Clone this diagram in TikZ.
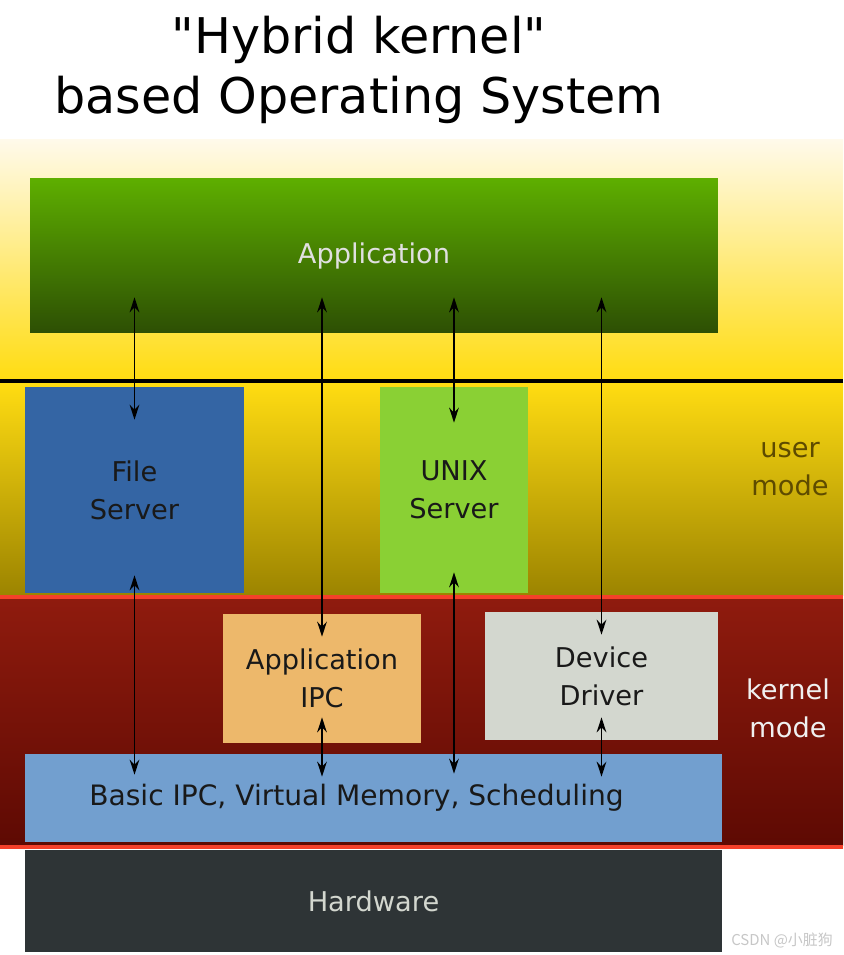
\documentclass[tikz,border=0pt]{standalone}
\usepackage{fontspec}
\setmainfont{DejaVu Sans}
\newfontfamily\cjkfont{Noto Sans CJK SC}
\usepackage{xcolor}
\usepackage{tikz}
\usetikzlibrary{arrows.meta,positioning}

\definecolor{appTop}{HTML}{5EAF00}
\definecolor{appBot}{HTML}{2D4F04}
\definecolor{fsBlue}{HTML}{3465A4}
\definecolor{unixGreen}{HTML}{8AD034}
\definecolor{ipcTan}{HTML}{EDB86B}
\definecolor{ddGrey}{HTML}{D3D7CF}
\definecolor{basicBlue}{HTML}{729FCF}
\definecolor{hwDark}{HTML}{2E3436}
\definecolor{userPale}{HTML}{FFFAEA}
\definecolor{userYellow}{HTML}{FFDC12}
\definecolor{userOlive}{HTML}{9C8400}
\definecolor{kernTop}{HTML}{8F1B0E}
\definecolor{kernBot}{HTML}{5E0A03}
\definecolor{redLine}{HTML}{F5402A}
\definecolor{userText}{HTML}{5E4B00}

\begin{document}
\begin{tikzpicture}[x=0.02cm, y=-0.02cm, >={Stealth[length=8.5pt,width=5.5pt]}, inner sep=0pt,
  box/.style={rectangle, align=center, font=\fontsize{15.5}{21.5}\selectfont, text=black!90},
  link/.style={<->, line width=1.1pt, black},
  modelabel/.style={align=center, font=\fontsize{15.5}{21.5}\selectfont}]

\useasboundingbox (0,0) rectangle (843,955);
\fill[white] (0,0) rectangle (843,955);

% mode bands
\shade[top color=userPale, bottom color=userYellow] (0,140) rectangle (843,379);
\shade[top color=userYellow, bottom color=userOlive] (0,383) rectangle (843,595);
\shade[top color=kernTop, bottom color=kernBot] (0,599) rectangle (843,845);
\draw[line width=2.8pt, black] (0,381) -- (843,381);
\draw[line width=2.8pt, redLine] (0,597) -- (843,597);
\draw[line width=2.8pt, redLine] (0,847) -- (843,847);

\node (title) [align=center, font=\fontsize{28}{34.5}\selectfont] at (359,70)
  {\textquotedbl Hybrid kernel\textquotedbl\\based Operating System};

\node [box, minimum width=13.76cm, minimum height=3.1cm, top color=appTop, bottom color=appBot,
  text=white!88!black] (app) at (374,255.5) {Application};
\node [box, fill=fsBlue, minimum width=4.38cm, minimum height=4.12cm] (fs) at (134.5,490) {File\\Server};
\node [box, fill=unixGreen, minimum width=2.96cm, minimum height=4.12cm] (unix) at (454,490) {UNIX\\Server};
\node [box, fill=ipcTan, minimum width=3.96cm, minimum height=2.58cm] (aipc) at (322,678.5) {Application\\IPC};
\node [box, fill=ddGrey, minimum width=4.66cm, minimum height=2.56cm] (dd) at (601.5,676) {Device\\Driver};
\node [box, fill=basicBlue, minimum width=13.94cm, minimum height=1.76cm, font=\fontsize{16}{21.5}\selectfont] (basic) at (373.5,798)
  {Basic IPC, Virtual Memory, Scheduling\hspace*{0.68cm}};
\node [box, fill=hwDark, minimum width=13.94cm, minimum height=2.04cm, text=ddGrey] (hw) at (373.5,901) {Hardware};

\node [modelabel, text=userText] (user) at (790,469) {user\\mode};
\node [modelabel, text=white!94!black] (kern) at (788,708) {kernel\\mode};
\node [font=\cjkfont\fontsize{8.5}{10}\selectfont, text=black!22] (mark) at (782,940) {CSDN @小脏狗};

\draw[link] ([yshift=0.72cm]app.south -| fs.north) -- ([yshift=-0.66cm]fs.north);
\draw[link] ([yshift=0.36cm]fs.south) -- ([yshift=-0.42cm]basic.north -| fs.south);
\draw[link] ([yshift=0.72cm]app.south -| aipc.north) -- ([yshift=-0.46cm]aipc.north);
\draw[link] ([yshift=0.52cm]aipc.south) -- ([yshift=-0.46cm]basic.north -| aipc.south);
\draw[link] ([yshift=0.72cm]app.south -| unix.north) -- ([yshift=-0.72cm]unix.north);
\draw[link] ([yshift=0.42cm]unix.south) -- ([yshift=-0.40cm]basic.north -| unix.south);
\draw[link] ([yshift=0.72cm]app.south -| dd.north) -- ([yshift=-0.46cm]dd.north);
\draw[link] ([yshift=0.46cm]dd.south) -- ([yshift=-0.46cm]basic.north -| dd.south);
\end{tikzpicture}
\end{document}
